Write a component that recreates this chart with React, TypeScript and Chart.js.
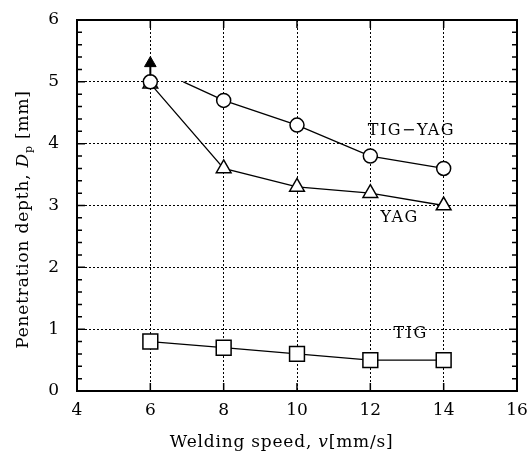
import React, { useEffect, useRef } from 'react';
import { Chart, registerables } from 'chart.js';

Chart.register(...registerables);

// ---- data ----
const speeds = [6, 8, 10, 12, 14];
const tigYagDepth = [5.0, 4.7, 4.3, 3.8, 3.6];
const yagDepth = [4.97, 3.6, 3.3, 3.2, 3.0];
const tigDepth = [0.8, 0.7, 0.6, 0.5, 0.5];
// TIG-YAG connecting line starts here (not at the first marker)
const tigYagLineStart = { x: 6.9, y: 5.0 };
// arrow above the 6 mm/s point (value exceeds)
const arrowX = 6;
const arrowStem = [5.1, 5.3];
const xTickValues = [4, 6, 8, 10, 12, 14, 16];
const yTickValues = [0, 1, 2, 3, 4, 5, 6];
const seriesLabelText = ['TIG\u2212YAG', 'YAG', 'TIG'];
const seriesLabelX = [13.12, 12.8, 13.1];
const seriesLabelY = [4.2, 2.8, 0.92];

const FONT = '"DejaVu Serif", serif';

const framePlugin = {
  id: 'frame',
  afterDraw(chart: any) {
    const { ctx, chartArea: a, scales } = chart;
    const xs = scales.x;
    const ys = scales.y;
    ctx.save();
    ctx.strokeStyle = '#000';
    ctx.fillStyle = '#000';
    // frame
    ctx.lineWidth = 2;
    ctx.strokeRect(a.left, a.top, a.right - a.left, a.bottom - a.top);
    // ticks
    ctx.lineWidth = 1.5;
    ctx.beginPath();
    for (const v of xTickValues) {
      const px = xs.getPixelForValue(v);
      ctx.moveTo(px, a.bottom); ctx.lineTo(px, a.bottom - 8);
      ctx.moveTo(px, a.top); ctx.lineTo(px, a.top + 8);
    }
    for (let i = 0; i <= 30; i++) {
      const v = i * 0.2;
      const py = ys.getPixelForValue(v);
      const len = i % 5 === 0 ? 8 : 5;
      ctx.moveTo(a.left, py); ctx.lineTo(a.left + len, py);
      ctx.moveTo(a.right, py); ctx.lineTo(a.right - len, py);
    }
    ctx.stroke();

    // series labels
    ctx.font = '16px ' + FONT;
    ctx.textAlign = 'center';
    ctx.textBaseline = 'middle';
    try { (ctx as any).letterSpacing = '1.5px'; } catch (e) {}
    seriesLabelText.forEach((t, i) => {
      ctx.fillText(t, xs.getPixelForValue(seriesLabelX[i]), ys.getPixelForValue(seriesLabelY[i]));
    });
    try { (ctx as any).letterSpacing = '0px'; } catch (e) {}

    // axis titles with mixed styles
    const drawRich = (parts: { t: string; f: string; dy?: number }[], cx: number, cy: number, rot: number) => {
      ctx.save();
      ctx.translate(cx, cy);
      ctx.rotate(rot);
      ctx.textAlign = 'left';
      ctx.textBaseline = 'alphabetic';
      try { (ctx as any).letterSpacing = '0.8px'; } catch (e) {}
      let total = 0;
      for (const p of parts) { ctx.font = p.f; total += ctx.measureText(p.t).width; }
      let x = -total / 2;
      for (const p of parts) {
        ctx.font = p.f;
        ctx.fillText(p.t, x, p.dy || 0);
        x += ctx.measureText(p.t).width;
      }
      ctx.restore();
    };
    const reg = '17px ' + FONT;
    const ita = 'italic 17px ' + FONT;
    const sub = '11px ' + FONT;
    drawRich(
      [
        { t: 'Welding speed, ', f: reg },
        { t: 'v', f: ita },
        { t: '[mm/s]', f: reg },
      ],
      a.left + (a.right - a.left) * 0.465, 447, 0
    );
    drawRich(
      [
        { t: 'Penetration depth, ', f: reg },
        { t: 'D', f: ita },
        { t: 'p', f: sub, dy: 4 },
        { t: ' [mm]', f: reg },
      ],
      28, (a.top + a.bottom) / 2 + 14, -Math.PI / 2
    );
    ctx.restore();
  },
};

export default function App() {
  const ref = useRef<HTMLCanvasElement | null>(null);
  useEffect(() => {
    if (!ref.current) return;
    const pts = (ys: number[]) => speeds.map((x, i) => ({ x, y: ys[i] }));
    const tigYagData = [{ x: speeds[0], y: tigYagDepth[0] }, tigYagLineStart, ...speeds.slice(1).map((x, i) => ({ x, y: tigYagDepth[i + 1] }))];
    const marker = {
      borderColor: '#000',
      backgroundColor: '#fff',
      pointBorderColor: '#000',
      pointBackgroundColor: '#fff',
      pointBorderWidth: 1.5,
      borderWidth: 1.3,
    };
    const chart = new Chart(ref.current, {
      type: 'scatter',
      data: {
        datasets: [
          {
            label: 'arrow',
            data: arrowStem.map((y) => ({ x: arrowX, y })),
            showLine: true,
            borderColor: '#000',
            borderWidth: 2,
            pointStyle: 'triangle',
            pointRadius: [0, 6.7],
            pointBackgroundColor: '#000',
            pointBorderColor: '#000',
            pointBorderWidth: 1,
          },
          {
            label: 'TIG-YAG',
            data: tigYagData,
            showLine: true,
            ...marker,
            pointStyle: 'circle',
            pointRadius: [7, 0, 7, 7, 7, 7],
            segment: {
              borderColor: (c: any) => (c.p0DataIndex === 0 ? 'rgba(0,0,0,0)' : '#000'),
            },
          },
          {
            label: 'YAG',
            data: pts(yagDepth),
            showLine: true,
            ...marker,
            pointStyle: 'triangle',
            pointRadius: 8.5,
          },
          {
            label: 'TIG',
            data: pts(tigDepth),
            showLine: true,
            ...marker,
            pointStyle: 'rect',
            pointRadius: 10.5,
          },
        ],
      },
      options: {
        responsive: false,
        animation: false,
        layout: { padding: { left: 0, right: 9, top: 20, bottom: 0 } },
        plugins: { legend: { display: false }, tooltip: { enabled: false } },
        scales: {
          x: {
            type: 'linear',
            min: 4,
            max: 16,
            afterFit: (s: any) => { s.height = 64; s.paddingLeft = 0; s.paddingRight = 0; },
            afterBuildTicks: (s: any) => { s.ticks = xTickValues.map((value) => ({ value })); },
            ticks: { color: '#000', font: { family: FONT, size: 17 }, padding: 9 },
            grid: { color: '#000', lineWidth: 1, drawTicks: false },
            border: { display: false, dash: [2, 2] },
          },
          y: {
            type: 'linear',
            min: 0,
            max: 6,
            afterFit: (s: any) => { s.width = 77; s.paddingTop = 0; s.paddingBottom = 0; },
            afterBuildTicks: (s: any) => { s.ticks = yTickValues.map((value) => ({ value })); },
            ticks: { color: '#000', font: { family: FONT, size: 17 }, padding: 18 },
            grid: { color: '#000', lineWidth: 1, drawTicks: false },
            border: { display: false, dash: [2, 2] },
          },
        },
      },
      plugins: [framePlugin],
    } as any);
    return () => chart.destroy();
  }, []);
  return (
    <div style={{ position: 'fixed', left: 0, top: 0, width: 529, height: 455, background: '#fff' }}>
      <canvas ref={ref} width={529} height={455} style={{ width: 529, height: 455 }} />
    </div>
  );
}
